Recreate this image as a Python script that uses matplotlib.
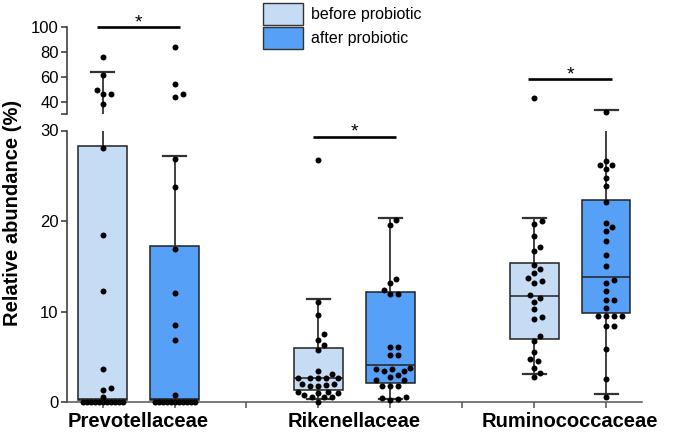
import numpy as np
import matplotlib.pyplot as plt
from matplotlib.patches import Patch

plt.rcParams['font.family'] = ['Liberation Sans', 'DejaVu Sans']

# ======= DATA ===========
groups = ['Prevotellaceae', 'Rikenellaceae', 'Ruminococcaceae']
series = ['before probiotic', 'after probiotic']
colors = ['#c6dcf5', '#56a0f8']

# box order: Prev before, Prev after, Rik before, Rik after, Rum before, Rum after
q1 = [0.2, 0.2, 1.3, 2.1, 7.0, 9.8]
med = [0.3, 0.3, 2.7, 4.1, 11.7, 13.8]
q3 = [28.3, 17.2, 6.0, 12.1, 15.4, 22.3]
whislo = [0.0, 0.0, 0.3, 0.3, 3.1, 0.85]
whishi = [63.7, 27.2, 11.4, 20.3, 20.3, 33.5]

prev_before = [75.8, 61.5, 49.2, 46.0, 46.0, 37.9, 28.1, 18.5, 12.3, 3.6, 1.5, 1.3, 0.5,
               0.0, 0.0, 0.0, 0.0, 0.0, 0.0, 0.0, 0.0, 0.0, 0.0, 0.0]
prev_after = [83.9, 54.3, 46.0, 43.5, 26.9, 23.8, 16.9, 12.0, 8.5, 6.9, 0.8,
              0.0, 0.0, 0.0, 0.0, 0.0, 0.0, 0.0, 0.0, 0.0, 0.0, 0.0]
rik_before = [26.7, 11.1, 9.6, 7.5, 6.9, 6.3, 5.8, 3.4, 3.1, 2.7, 2.6, 2.6, 2.7, 2.7,
              2.0, 1.9, 2.0, 1.8, 1.8, 1.1, 1.0, 1.0, 1.1, 0.6, 0.6, 0.8, 0.6, 0.0]
rik_after = [20.1, 19.6, 13.6, 13.1, 12.4, 11.9, 11.9, 6.1, 6.1, 5.2, 5.2, 3.8, 3.7, 3.7,
             3.4, 3.4, 3.0, 2.8, 2.4, 2.4, 1.8, 1.8, 1.8, 0.6, 0.4, 0.3, 0.2]
rum_before = [42.7, 20.0, 19.7, 18.3, 17.1, 16.7, 15.1, 14.7, 14.2, 13.7, 13.4, 13.2, 11.8,
              11.5, 11.1, 10.3, 9.4, 9.2, 7.3, 6.7, 5.5, 4.8, 4.5, 3.8, 3.2, 2.8]
rum_after = [31.7, 26.6, 26.2, 26.2, 25.8, 24.7, 23.9, 22.1, 19.8, 19.3, 18.9, 17.8, 16.2,
             15.0, 13.5, 13.2, 12.3, 11.3, 11.3, 10.4, 9.5, 9.5, 9.5, 9.5, 8.4, 8.4, 5.9, 2.5, 0.6]
all_points = [prev_before, prev_after, rik_before, rik_after, rum_before, rum_after]

positions = [0, 1, 3, 4, 6, 7]
sig_pairs = [(0, 1), (3, 4), (6, 7)]
sig_y = [100, 29.3, 58]

BREAK = 30

# ======= FIGURE / BROKEN AXIS ===========
fig = plt.figure(figsize=(6.8, 4.34), dpi=100)
W, H = 680, 434
left, right = 66.7, 642
ax_lo = fig.add_axes([left / W, (H - 402) / H, (right - left) / W, (402 - 130.5) / H])
ax_hi = fig.add_axes([left / W, (H - 114) / H, (right - left) / W, (114 - 27.3) / H])

ax_lo.set_ylim(0, BREAK)
ax_hi.set_ylim(BREAK, 100)
for ax in (ax_lo, ax_hi):
    ax.set_xlim(-0.5, 7.5)
    ax.patch.set_alpha(0)
    for s in ['top', 'right']:
        ax.spines[s].set_visible(False)
    ax.spines['left'].set_linewidth(1.1)
    ax.spines['left'].set_color('#333333')
    ax.tick_params(axis='y', length=4.3, width=1.1, color='#333333', labelsize=12, pad=1.5)

ax_hi.spines['bottom'].set_visible(False)
ax_hi.set_xticks([])
ax_hi.set_yticks([30, 40, 60, 80, 100])
ax_hi.set_yticklabels(['', '40', '60', '80', '100'])
ax_lo.set_yticks([0, 10, 20, 30])
ax_lo.set_xticks(range(8))
ax_lo.set_xticklabels([])
ax_lo.spines['bottom'].set_linewidth(1.1)
ax_lo.spines['bottom'].set_color('#555555')
ax_lo.tick_params(axis='x', length=4.3, width=1.1, color='#555555')

# ======= BOXES ===========
stats = []
for i in range(len(positions)):
    stats.append(dict(q1=q1[i], med=med[i], q3=q3[i], whislo=whislo[i], whishi=whishi[i], fliers=[]))

for ax in (ax_lo, ax_hi):
    bp = ax.bxp(stats, positions=positions, widths=0.68, capwidths=0.32, patch_artist=True,
                showfliers=False, manage_ticks=False,
                boxprops=dict(edgecolor='#222222', linewidth=1.1),
                medianprops=dict(color='#222222', linewidth=1.1),
                whiskerprops=dict(color='#333333', linewidth=1.3),
                capprops=dict(color='#333333', linewidth=1.6))
    for i, patch in enumerate(bp['boxes']):
        patch.set_facecolor(colors[i % 2])


# ======= POINTS (simple beeswarm in pixel space) ===========
def px_y(v):
    ax = ax_hi if v > BREAK else ax_lo
    return ax.transData.transform((0, v))[1]


px_per_x = ax_lo.transData.transform((1, 0))[0] - ax_lo.transData.transform((0, 0))[0]


def swarm(vals, d=7.0, step=2.0, maxw=20.0):
    ys = np.array([px_y(v) for v in vals])
    cands = np.arange(-maxw, maxw + 0.01, step)
    cands = cands[np.argsort(np.abs(cands) + 1e-3 * (cands < 0))]
    offs = np.zeros(len(vals))
    placed = []
    for i in np.argsort(ys):
        best, best_d = 0.0, -1
        for c in cands:
            md = min([np.hypot(c - px, ys[i] - py) for px, py in placed] or [99])
            if md >= d:
                best = c
                break
            if md > best_d + 0.5:
                best, best_d = c, md
        offs[i] = best
        placed.append((best, ys[i]))
    return offs / px_per_x


for pos, vals in zip(positions, all_points):
    offs = swarm(vals)
    for v, o in zip(vals, offs):
        ax = ax_hi if v > BREAK else ax_lo
        ax.plot(pos + o, v, 'o', ms=4.3, color='black', mec='none', zorder=5, clip_on=False)

# ======= SIGNIFICANCE ===========
for (a, b), y in zip(sig_pairs, sig_y):
    ax = ax_hi if y > BREAK else ax_lo
    ax.plot([a - 0.08, b + 0.08], [y, y], color='black', lw=1.9, clip_on=False,
            solid_capstyle='butt')
    ax.annotate('*', xy=((a + b) / 2, y), xytext=(0, 0), textcoords='offset points',
                ha='center', va='baseline', fontsize=14, annotation_clip=False)

# ======= LABELS / LEGEND ===========
for g, name in enumerate(groups):
    ax_lo.text(positions[2 * g] + 0.5, -0.07, name, transform=ax_lo.get_xaxis_transform(),
               ha='center', va='center', fontsize=14.5, fontweight='bold')

fig.text(0.018, 0.51, 'Relative abundance (%)', rotation=90, ha='center', va='center',
         fontsize=14.5, fontweight='bold')

handles = [Patch(facecolor=c, edgecolor='#333333', linewidth=1.0) for c in colors]
fig.legend(handles, series, loc='upper left', bbox_to_anchor=(263 / W, 1 - 3 / H),
           frameon=False, fontsize=11.5, handlelength=2.5, handleheight=1.75,
           handletextpad=0.5, labelspacing=0.12, borderpad=0, borderaxespad=0)

fig.savefig('out.png', dpi=100)
